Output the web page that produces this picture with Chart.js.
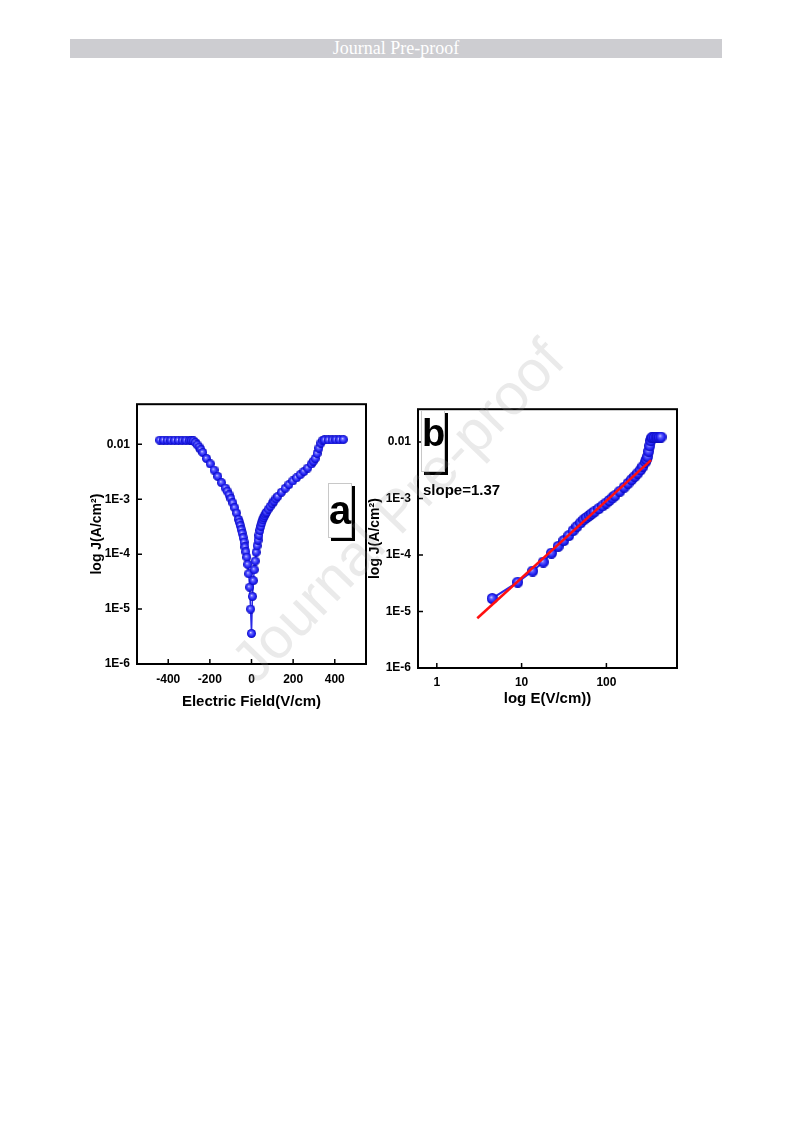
<!DOCTYPE html>
<html>
<head>
<meta charset="utf-8">
<script src="https://cdn.jsdelivr.net/npm/chart.js@4.4.1/dist/chart.umd.min.js"></script>
<style>
  body { margin: 0; width: 793px; height: 1123px; background: #fff; position: relative; overflow: hidden; }
  #header { position: absolute; left: 70px; top: 39px; width: 652px; height: 19px; background: #cdcdd1; color: #fff;
            font-family: "Liberation Serif", "Times New Roman", serif; font-size: 18px; line-height: 19px; text-align: center; }
  .panel { position: absolute; }
  #wrapA { left: 85px; top: 390px; width: 290px; height: 325px; }
  #wrapB { left: 362px; top: 395px; width: 325px; height: 320px; }
  .tag { position: absolute; background: #fff; border: 1px solid #c8c8c8; box-shadow: 3px 3px 0 #000;
         font-family: "Liberation Sans", Arial, sans-serif; font-weight: bold;
         color: #000; text-align: center; box-sizing: border-box; }
  #tagA { left: 328px; top: 483px; width: 24px; height: 55px; font-size: 40px; line-height: 52px; }
  #tagB { left: 421px; top: 410px; width: 24px; height: 62px; font-size: 38px; line-height: 44px; }
  #slope { position: absolute; left: 423px; top: 481px; font-size: 15px; font-weight: bold;
           font-family: "Liberation Sans", Arial, sans-serif; }
  #watermark { position: absolute; left: 397px; top: 510px; transform: translate(-50%, -50%) rotate(-46deg);
               font-family: "Liberation Sans", Arial, sans-serif; font-size: 58px; color: rgba(150,150,150,0.2);
               white-space: nowrap; pointer-events: none; }
</style>
</head>
<body>
<div id="header">Journal Pre-proof</div>
<div class="panel" id="wrapA"><canvas id="chartA" width="290" height="325"></canvas></div>
<div class="panel" id="wrapB"><canvas id="chartB" width="325" height="320"></canvas></div>
<div class="tag" id="tagA">a</div>
<div class="tag" id="tagB">b</div>
<div id="slope">slope=1.37</div>
<div id="watermark">Journal Pre-proof</div>
<script>
// negative branch of the J-E sweep (V/cm, A/cm^2)
const negField = [-441, -423, -405, -387, -369, -351, -333, -315, -297, -288, -279, -270, -261, -252, -243, -234,
  -216, -198, -180, -162, -144, -126, -117, -108, -99, -90, -81, -72, -63, -58.5, -54, -49.5, -45, -40.5, -36,
  -31.5, -27, -22.5, -18, -13.5, -9, -4.5, 0];
const negCurrent = [0.0119, 0.0119, 0.0118, 0.0118, 0.0118, 0.0118, 0.0118, 0.0118, 0.0118, 0.0118, 0.0116, 0.0108,
  0.0098, 0.0089, 0.0080, 0.0071, 0.0055, 0.0044, 0.0034, 0.0026, 0.0020, 0.0016, 0.0014, 0.0012, 0.00103, 0.00086,
  0.0007, 0.00056, 0.00043, 0.00038, 0.00033, 0.00028, 0.00024, 0.0002, 0.000165, 0.000135, 0.00011, 0.000088,
  0.000065, 0.000044, 0.000025, 0.00001, 0.0000036];

// positive branch (also plotted log-log in panel b)
const posField = [4.5, 9, 13.5, 18, 22.5, 27, 31.5, 36, 40.5, 45, 49.5, 54, 58.5, 63, 67.5, 72, 81, 90, 99, 108,
  117, 126, 144, 162, 180, 198, 216, 234, 252, 270, 288, 297, 306, 315, 324, 333, 342, 351, 369, 387, 405, 423, 441];
const posCurrent = [1.7e-5, 3.3e-5, 5.2e-5, 7.5e-5, 1.08e-4, 1.42e-4, 1.8e-4, 2.2e-4, 2.7e-4, 3.2e-4, 3.7e-4, 4.2e-4,
  4.6e-4, 5.0e-4, 5.4e-4, 5.8e-4, 6.6e-4, 7.4e-4, 8.3e-4, 9.2e-4, 1.02e-3, 1.12e-3, 1.34e-3, 1.58e-3, 1.85e-3,
  2.15e-3, 2.45e-3, 2.8e-3, 3.2e-3, 3.7e-3, 4.4e-3, 4.9e-3, 5.5e-3, 6.8e-3, 8.5e-3, 0.0105, 0.0118, 0.0120, 0.0120,
  0.0120, 0.0121, 0.0121, 0.0122];

// linear fit in log-log, slope 1.37
const fitField = [3.0, 336];
const fitCurrent = [7.6e-6, 4.75e-3];

const fieldTicks = [-400, -200, 0, 200, 400];
const logFieldTicks = [1, 10, 100];
const logFieldLabels = ['1', '10', '100'];
const currentTicks = [1e-6, 1e-5, 1e-4, 1e-3, 1e-2];
const currentLabels = ['1E-6', '1E-5', '1E-4', '1E-3', '0.01'];

const FONT = '"Liberation Sans", Arial, sans-serif';

// shaded ball marker
function makeBall(d) {
    const c = document.createElement('canvas');
    c.width = d; c.height = d;
    const g = c.getContext('2d');
    const grad = g.createRadialGradient(d * 0.4, d * 0.38, 0, d / 2, d / 2, d / 2);
    grad.addColorStop(0, '#d8d8ff');
    grad.addColorStop(0.3, '#6060ff');
    grad.addColorStop(0.75, '#1c1cf0');
    grad.addColorStop(1, '#0a0ab4');
    g.fillStyle = grad;
    g.beginPath();
    g.arc(d / 2, d / 2, d / 2, 0, Math.PI * 2);
    g.fill();
    return c;
}

const framePlugin = {
    id: 'frame',
    afterDraw(chart) {
        const { ctx, chartArea: { left, top, right, bottom }, scales: { x, y } } = chart;
        ctx.save();
        ctx.strokeStyle = '#000';
        ctx.lineWidth = 2;
        ctx.strokeRect(left, top, right - left, bottom - top);
        ctx.lineWidth = 1.5;
        ctx.beginPath();
        x.ticks.forEach(t => {
            const px = x.getPixelForValue(t.value);
            ctx.moveTo(px, bottom); ctx.lineTo(px, bottom - 5);
        });
        y.ticks.forEach(t => {
            const py = y.getPixelForValue(t.value);
            ctx.moveTo(left, py); ctx.lineTo(left + 5, py);
        });
        ctx.stroke();
        ctx.restore();
    }
};

const tickFont = { family: FONT, size: 12, weight: 'bold' };
const titleFont = { family: FONT, size: 15, weight: 'bold' };

function yAxis(max, width, titlePad) {
    return {
        type: 'logarithmic', min: 1e-6, max: max,
        afterBuildTicks: s => { s.ticks = currentTicks.map(v => ({ value: v })); },
        afterFit: s => { s.width = width; },
        grid: { display: false, drawTicks: false },
        border: { display: false },
        ticks: { font: tickFont, color: '#000', padding: 7, callback: (v, i) => currentLabels[i] },
        title: { display: true, text: 'log J(A/cm²)', font: { family: FONT, size: 14, weight: 'bold' }, color: '#000', padding: { top: titlePad, bottom: 0 } }
    };
}

// panel a
new Chart(document.getElementById('chartA'), {
    type: 'scatter',
    data: {
        datasets: [{
            data: negField.concat(posField).map((x, i) => ({ x: x, y: negCurrent.concat(posCurrent)[i] })),
            showLine: true,
            borderColor: '#2a2ae6',
            borderWidth: 1.5,
            pointStyle: makeBall(9),
            pointRadius: 4
        }]
    },
    options: {
        responsive: false,
        animation: false,
        layout: { padding: { left: 0, right: 9, top: 3, bottom: 0 } },
        plugins: { legend: { display: false }, tooltip: { enabled: false } },
        scales: {
            x: {
                type: 'linear', min: -550, max: 550,
                afterBuildTicks: s => { s.ticks = fieldTicks.map(v => ({ value: v })); },
                afterFit: s => { s.height = 51; },
                grid: { display: false, drawTicks: false },
                border: { display: false },
                ticks: { font: tickFont, color: '#000', padding: 8, callback: v => String(v) },
                title: { display: true, text: 'Electric Field(V/cm)', font: titleFont, color: '#000', padding: { top: 0, bottom: 4 } }
            },
            y: yAxis(0.0537, 52, 4)
        }
    },
    plugins: [framePlugin]
});

// panel b
new Chart(document.getElementById('chartB'), {
    type: 'scatter',
    data: {
        datasets: [{
            data: fitField.map((x, i) => ({ x: x, y: fitCurrent[i] })),
            showLine: true,
            borderColor: '#ff1010',
            borderWidth: 2.5,
            pointRadius: 0,
            order: 0
        }, {
            data: posField.map((x, i) => ({ x: x, y: posCurrent[i] })),
            showLine: true,
            borderColor: '#2a2ae6',
            borderWidth: 2,
            pointStyle: makeBall(11),
            pointRadius: 5,
            order: 1
        }]
    },
    options: {
        responsive: false,
        animation: false,
        layout: { padding: { left: 0, right: 10, top: 3, bottom: 0 } },
        plugins: { legend: { display: false }, tooltip: { enabled: false } },
        scales: {
            x: {
                type: 'logarithmic', min: 0.61, max: 680,
                afterBuildTicks: s => { s.ticks = logFieldTicks.map(v => ({ value: v })); },
                afterFit: s => { s.height = 47; },
                grid: { display: false, drawTicks: false },
                border: { display: false },
                ticks: { font: tickFont, color: '#000', padding: 7, callback: (v, i) => logFieldLabels[i] },
                title: { display: true, text: 'log E(V/cm))', font: titleFont, color: '#000', padding: { top: 0, bottom: 7 } }
            },
            y: yAxis(0.0379, 56, 5)
        }
    },
    plugins: [framePlugin]
});
</script>
</body>
</html>
